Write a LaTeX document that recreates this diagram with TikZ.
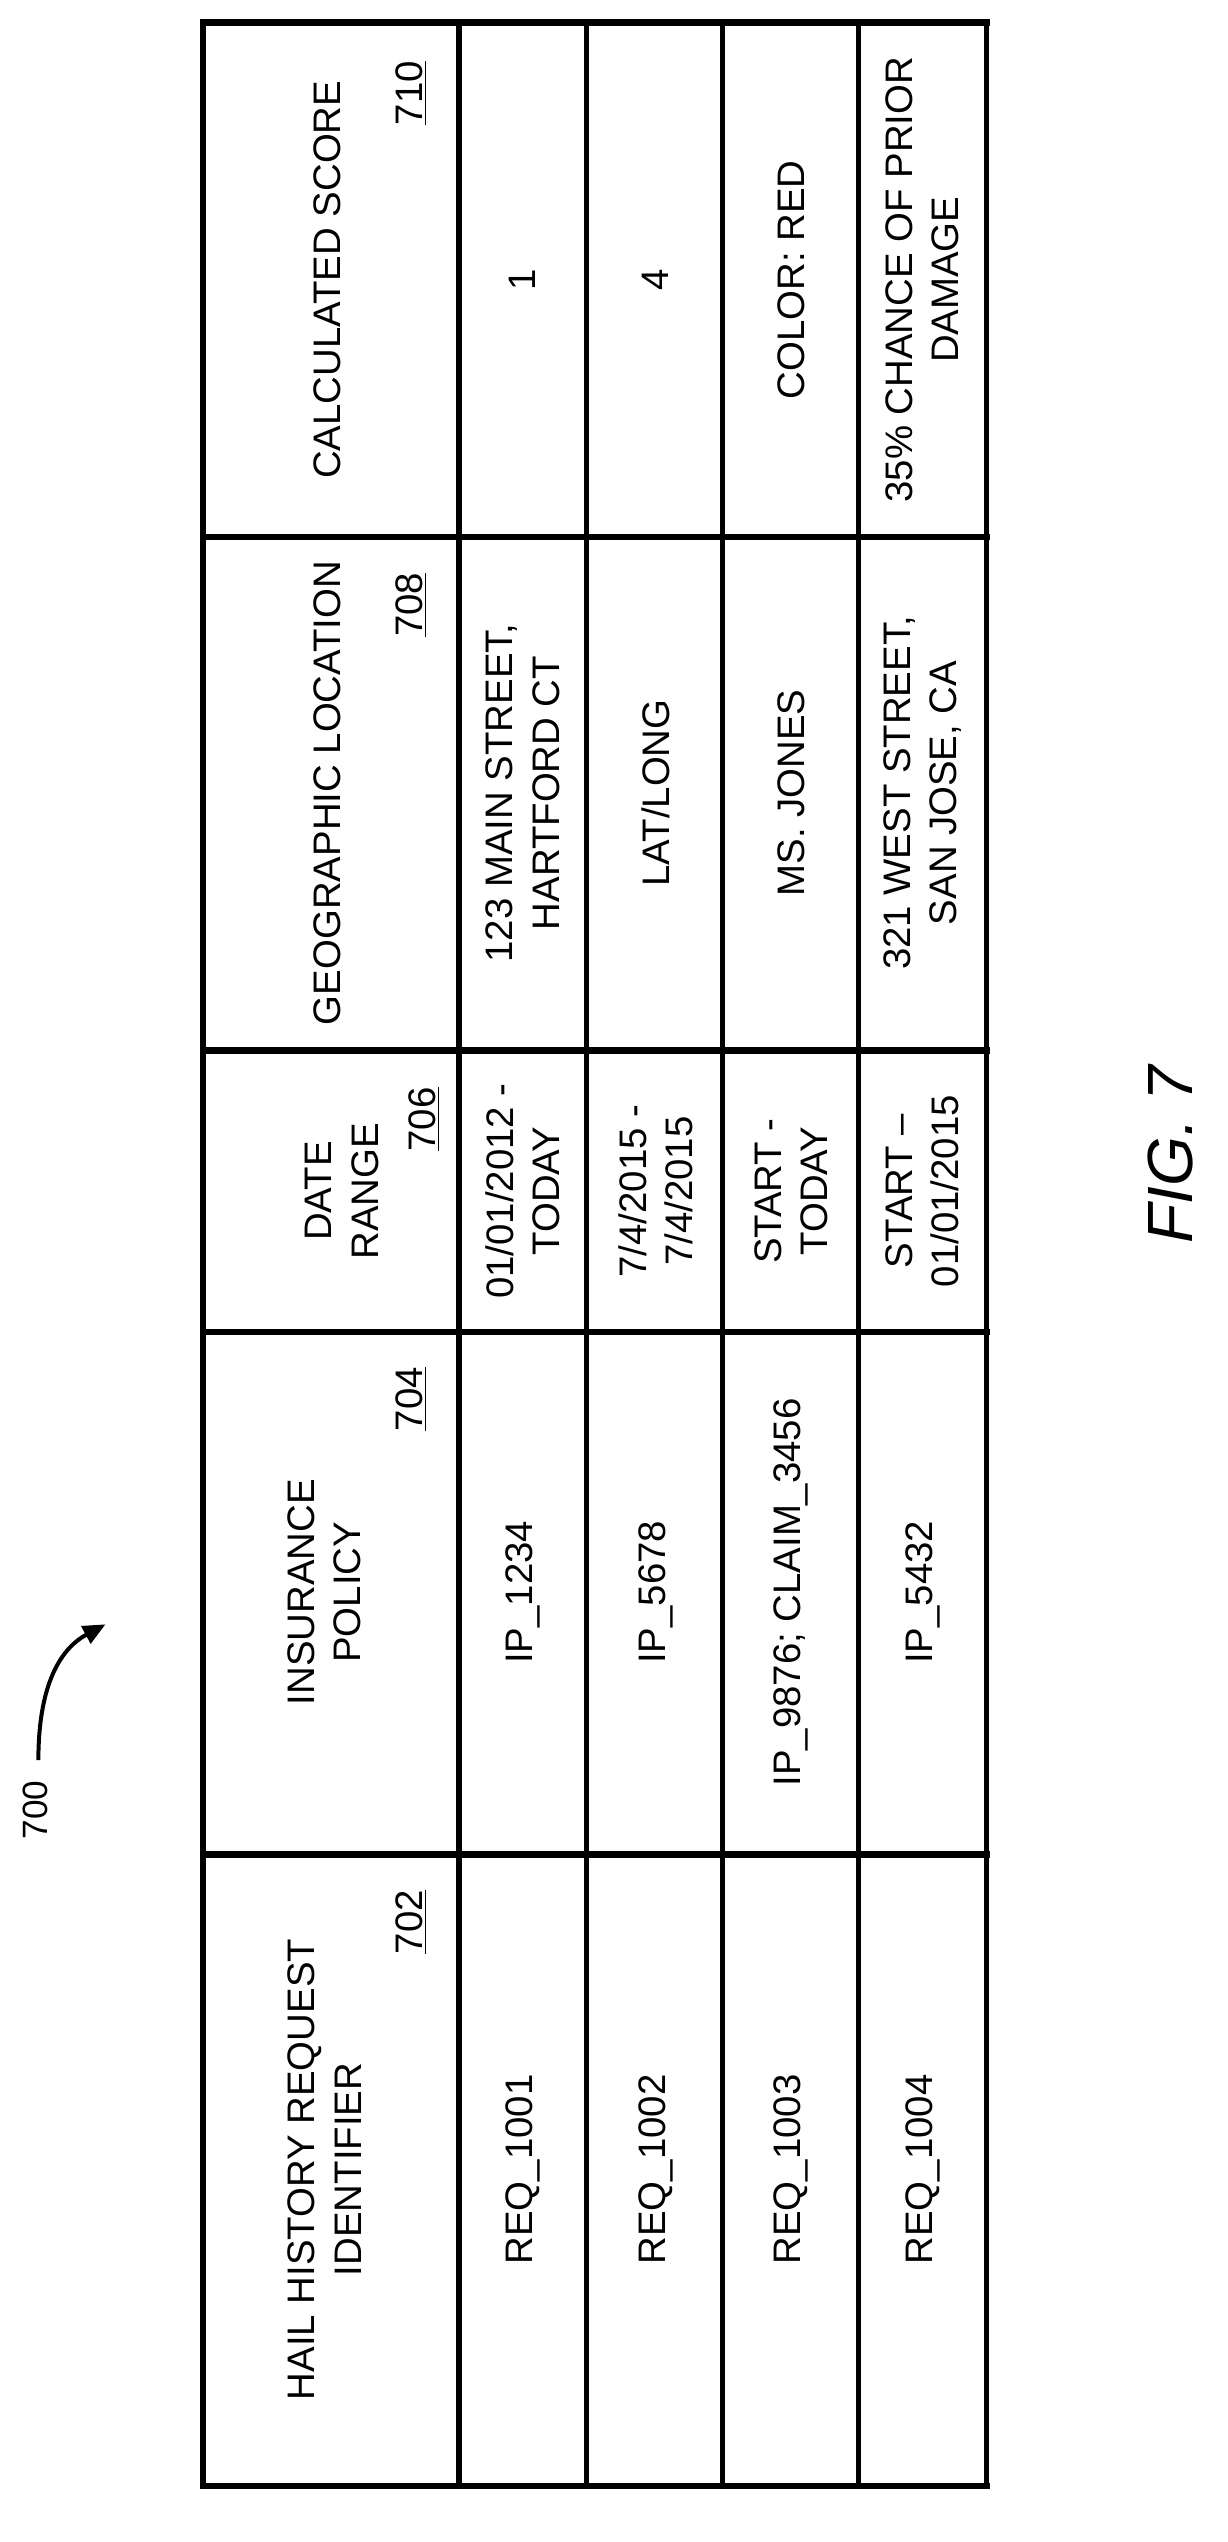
\documentclass[tikz,border=0pt]{standalone}
\usepackage{fontspec}
\setmainfont{Liberation Sans}
\usetikzlibrary{arrows.meta}
\begin{document}
\begin{tikzpicture}[x=1pt,y=1pt,
  txt/.style={rotate=90,align=center,font=\fontsize{24}{29}\selectfont,inner sep=0},
  num/.style={rotate=90,anchor=east,font=\fontsize{24}{29}\selectfont,inner sep=0},
  grid/.style={line width=3pt},
  thick grid/.style={line width=4pt}]
\useasboundingbox (0,0) rectangle (768,-1590);
% grid
\foreach \x in {367,452,537,617} \draw[grid] (\x,-14) -- (\x,-1555);
\foreach \x in {127,287} \draw[thick grid] (\x,-14) -- (\x,-1555);
\foreach \y in {14,336,657,833,1160,1555} \draw[thick grid] (125,-\y) -- (619,-\y);
% headers
\node[txt] (h710) at (205,-175) {CALCULATED SCORE};
\node[num] (n710) at (257,-38) {\underline{710}};
\node[txt] (h708) at (205,-496) {GEOGRAPHIC LOCATION};
\node[num] (n708) at (257,-358) {\underline{708}};
\node[txt] (h706) at (214,-745) {DATE\\RANGE};
\node[num] (n706) at (265,-680) {\underline{706}};
\node[txt] (h704) at (203,-996) {INSURANCE\\POLICY};
\node[num] (n704) at (257,-855) {\underline{704}};
\node[txt] (h702) at (203,-1357) {HAIL HISTORY REQUEST\\IDENTIFIER};
\node[num] (n702) at (257,-1182) {\underline{702}};
% row 1
\node[txt] (a1) at (327,-175) {1};
\node[txt] (b1) at (327,-496) {123 MAIN STREET,\\HARTFORD CT};
\node[txt] (c1) at (327,-745) {01/01/2012 -\\TODAY};
\node[txt] (d1) at (327,-996) {IP\_1234};
\node[txt] (e1) at (327,-1357) {REQ\_1001};
% row 2
\node[txt] (a2) at (410,-175) {4};
\node[txt] (b2) at (410,-496) {LAT/LONG};
\node[txt] (c2) at (410,-745) {7/4/2015 -\\7/4/2015};
\node[txt] (d2) at (410,-996) {IP\_5678};
\node[txt] (e2) at (410,-1357) {REQ\_1002};
% row 3
\node[txt] (a3) at (495,-175) {COLOR: RED};
\node[txt] (b3) at (495,-496) {MS. JONES};
\node[txt] (c3) at (495,-745) {START -\\TODAY};
\node[txt] (d3) at (495,-996) {IP\_9876; CLAIM\_3456};
\node[txt] (e3) at (495,-1357) {REQ\_1003};
% row 4
\node[txt] (a4) at (577,-175) {35\% CHANCE OF PRIOR\\DAMAGE};
\node[txt] (b4) at (577,-496) {321 WEST STREET,\\SAN JOSE, CA};
\node[txt] (c4) at (577,-745) {START --\\01/01/2015};
\node[txt] (d4) at (577,-996) {IP\_5432};
\node[txt] (e4) at (577,-1357) {REQ\_1004};
% reference
\node[txt,font=\fontsize{22}{26}\selectfont] (r700) at (22,-1132) {700};
\coordinate (s) at (24,-1101);
\coordinate (t) at (66,-1016);
\draw[line width=2.5pt,-{Triangle[length=14pt,width=12pt]}] (s) .. controls (24,-1050) and (40,-1030) .. (t);
% caption
\node[rotate=90,font=\fontsize{40}{48}\selectfont\itshape,inner sep=0] (fig) at (732,-722) {FIG. 7};
\end{tikzpicture}
\end{document}
